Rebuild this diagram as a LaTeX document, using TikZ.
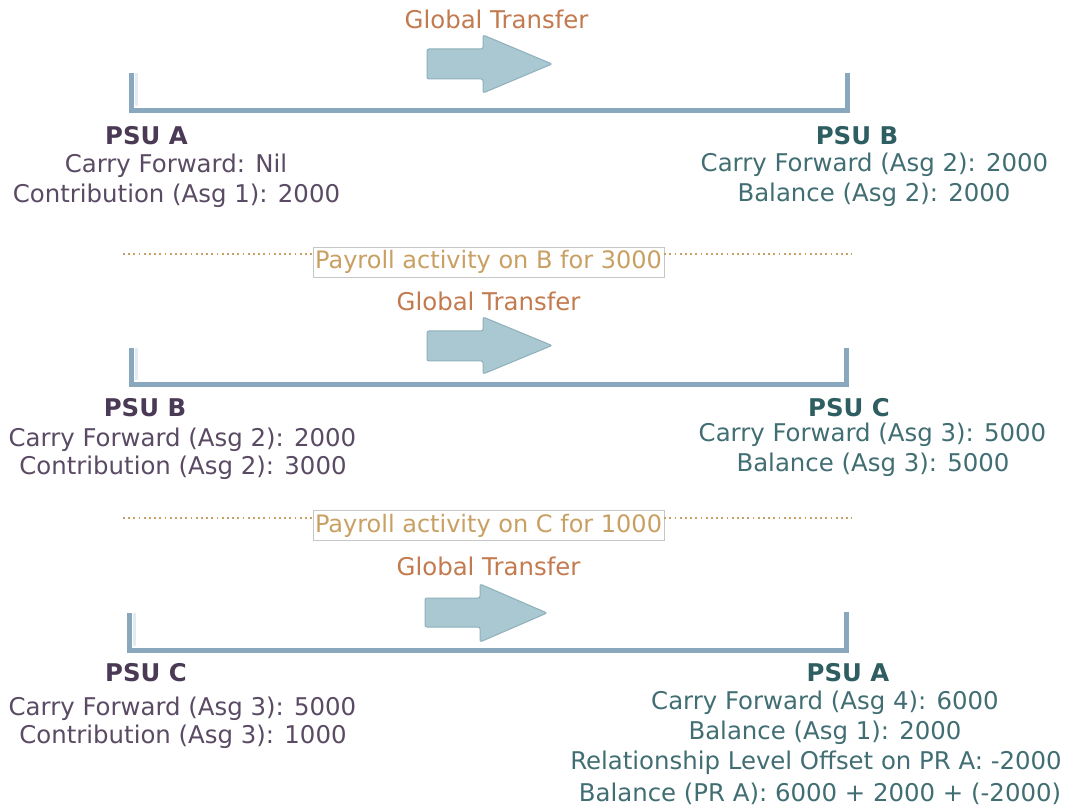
\documentclass[tikz,border=0pt]{standalone}
\usepackage{fontspec}
\setmainfont{DejaVu Sans}
\usetikzlibrary{calc}
\definecolor{lcol}{HTML}{5A4A64}
\definecolor{lbold}{HTML}{4B3A56}
\definecolor{rcol}{HTML}{416E72}
\definecolor{rbold}{HTML}{2E5E62}
\definecolor{gtcol}{HTML}{C27A4E}
\definecolor{paycol}{HTML}{C9A063}
\definecolor{brk}{HTML}{8AA8BD}
\definecolor{brklight}{HTML}{E3ECF1}
\definecolor{arrfill}{HTML}{A9C8D1}
\definecolor{arrdraw}{HTML}{8FB0BA}
\tikzset{
  txt/.style={font=\fontsize{24.4}{29}\selectfont, inner sep=0pt, anchor=base},
  ltxt/.style={txt, text=lcol},
  lhead/.style={txt, text=lbold, font=\fontsize{24.4}{29}\selectfont\bfseries},
  rtxt/.style={txt, text=rcol},
  rhead/.style={txt, text=rbold, font=\fontsize{24.4}{29}\selectfont\bfseries},
  gttxt/.style={txt, text=gtcol},
  paybox/.style={draw=black!22, fill=white, text=paycol, font=\fontsize{24}{29}\selectfont,
    minimum width=351pt, minimum height=30pt, text height=18pt, text depth=5pt, inner sep=0pt},
  dotline/.style={draw=paycol, line width=1.8pt, dash pattern=on 1.8pt off 3.4pt},
  bracketline/.style={draw=brk, line width=5pt},
  bracketshade/.style={draw=brklight, line width=3pt},
  garrowstyle/.style={fill=arrfill, draw=arrdraw, line width=1pt, rounded corners=2pt},
}
\begin{document}
\begin{tikzpicture}[x=1pt, y=-1pt]
\useasboundingbox (0,0) rectangle (1066,810);
\fill[white] (0,0) rectangle (1066,810);

% ---------- Panel 1 ----------
\node[gttxt] (gt1) at (496.5,29) {Global Transfer};
\draw[garrowstyle] (427,49) -- (483,49) -- (483,35) -- (552,64) -- (483,93) -- (483,79) -- (427,79) -- cycle;
\coordinate (b1lt) at (131,73);
\coordinate (b1lb) at (131,110.5);
\coordinate (b1rb) at (847.5,110.5);
\coordinate (b1rt) at (847.5,73);
\draw[bracketshade] ($(b1lt)+(5,0)$) -- ($(b1lb)+(5,-4)$);
\draw[bracketline] (b1lt) -- (b1lb) -- (b1rb) -- (b1rt);

\node[lhead] (p1a) at (146.5,145) {PSU A};
\node[ltxt] (p1a1) at (176,173) {Carry Forward: Nil};
\node[ltxt] (p1a2) at (176.5,203) {Contribution (Asg 1): 2000};
\node[rhead] (p1b) at (857,145) {PSU B};
\node[rtxt] (p1b1) at (874.5,172) {Carry Forward (Asg 2): 2000};
\node[rtxt] (p1b2) at (874,202) {Balance (Asg 2): 2000};

\node[paybox] (pay1) at (488.5,262) {Payroll activity on B for 3000};
\coordinate (d1l) at (123,254);
\coordinate (d1r) at (852,254);
\draw[dotline] (d1l) -- (pay1.west |- d1l);
\draw[dotline] (pay1.east |- d1r) -- (d1r);

% ---------- Panel 2 ----------
\node[gttxt] (gt2) at (488.5,311) {Global Transfer};
\draw[garrowstyle] (427,331) -- (483,331) -- (483,317) -- (552,345.5) -- (483,374) -- (483,361) -- (427,361) -- cycle;
\coordinate (b2lt) at (131,348);
\coordinate (b2lb) at (131,384.5);
\coordinate (b2rb) at (846,384.5);
\coordinate (b2rt) at (846,348);
\draw[bracketshade] ($(b2lt)+(5,0)$) -- ($(b2lb)+(5,-4)$);
\draw[bracketline] (b2lt) -- (b2lb) -- (b2rb) -- (b2rt);

\node[lhead] (p2b) at (145,417) {PSU B};
\node[ltxt] (p2b1) at (182.5,446) {Carry Forward (Asg 2): 2000};
\node[ltxt] (p2b2) at (183,474) {Contribution (Asg 2): 3000};
\node[rhead] (p2c) at (849,416) {PSU C};
\node[rtxt] (p2c1) at (872.5,441) {Carry Forward (Asg 3): 5000};
\node[rtxt] (p2c2) at (873,471) {Balance (Asg 3): 5000};

\node[paybox] (pay2) at (488.5,525.5) {Payroll activity on C for 1000};
\coordinate (d2l) at (123,518);
\coordinate (d2r) at (852,518);
\draw[dotline] (d2l) -- (pay2.west |- d2l);
\draw[dotline] (pay2.east |- d2r) -- (d2r);

% ---------- Panel 3 ----------
\node[gttxt] (gt3) at (488.5,575) {Global Transfer};
\draw[garrowstyle] (425,598) -- (480,598) -- (480,584) -- (547,613) -- (480,642) -- (480,627) -- (425,627) -- cycle;
\coordinate (b3lt) at (129,613);
\coordinate (b3lb) at (129,650);
\coordinate (b3rb) at (846,650);
\coordinate (b3rt) at (846,612);
\draw[bracketshade] ($(b3lt)+(5,0)$) -- ($(b3lb)+(5,-4)$);
\draw[bracketline] (b3lt) -- (b3lb) -- (b3rb) -- (b3rt);

\node[lhead] (p3c) at (146,681) {PSU C};
\node[ltxt] (p3c1) at (182.5,715) {Carry Forward (Asg 3): 5000};
\node[ltxt] (p3c2) at (183,743) {Contribution (Asg 3): 1000};
\node[rhead] (p3a) at (848,681) {PSU A};
\node[rtxt] (p3a1) at (825,709) {Carry Forward (Asg 4): 6000};
\node[rtxt] (p3a2) at (825,739) {Balance (Asg 1): 2000};
\node[rtxt] (p3a3) at (816,769) {Relationship Level Offset on PR A: -2000};
\node[rtxt] (p3a4) at (820,801) {Balance (PR A): 6000 + 2000 + (-2000)};
\end{tikzpicture}
\end{document}
